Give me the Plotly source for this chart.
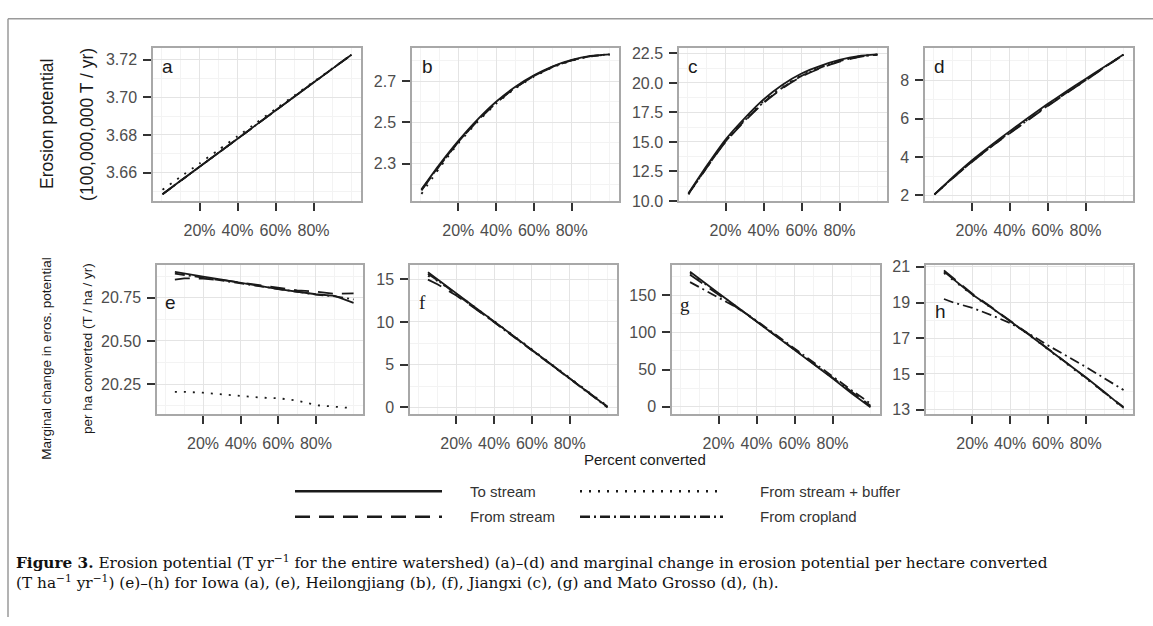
import plotly.graph_objects as go

W, H = 1153, 626

SERIES_NAMES = ["To stream", "From stream", "From stream + buffer", "From cropland"]
X_TICKS = [0.2, 0.4, 0.6, 0.8]

# Percent converted
X_TOP = [0.005, 0.1, 0.2, 0.3, 0.4, 0.5, 0.6, 0.7, 0.8, 0.9, 1.0]
X_BOTTOM = [0.05, 0.1, 0.2, 0.3, 0.4, 0.5, 0.6, 0.7, 0.8, 0.9, 1.0]

# (a) Iowa - erosion potential (100,000,000 T / yr)
a_to_stream = [3.6485, 3.6557, 3.6631, 3.6706, 3.6780, 3.6855, 3.6930, 3.7004, 3.7078, 3.7152, 3.7226]
a_from_stream = [3.6485, 3.6556, 3.6631, 3.6705, 3.6780, 3.6855, 3.6929, 3.7004, 3.7078, 3.7152, 3.7226]
a_buffer = [3.6509, 3.6578, 3.6649, 3.6721, 3.6793, 3.6865, 3.6938, 3.7010, 3.7082, 3.7154, 3.7226]
a_cropland = [3.6485, 3.6557, 3.6631, 3.6706, 3.6780, 3.6855, 3.6930, 3.7004, 3.7078, 3.7152, 3.7226]

# (b) Heilongjiang
b_to_stream = [2.175, 2.295, 2.410, 2.512, 2.600, 2.672, 2.728, 2.772, 2.803, 2.822, 2.830]
b_from_stream = [2.170, 2.288, 2.404, 2.506, 2.594, 2.667, 2.724, 2.769, 2.801, 2.821, 2.829]
b_buffer = [2.153, 2.278, 2.398, 2.500, 2.590, 2.664, 2.721, 2.767, 2.799, 2.820, 2.829]
b_cropland = [2.172, 2.290, 2.405, 2.507, 2.595, 2.668, 2.725, 2.770, 2.801, 2.821, 2.830]

# (c) Jiangxi
c_to_stream = [10.65, 12.95, 15.20, 17.00, 18.60, 19.85, 20.80, 21.45, 21.95, 22.28, 22.42]
c_from_stream = [10.60, 12.80, 15.00, 16.75, 18.30, 19.55, 20.55, 21.25, 21.80, 22.20, 22.40]
c_buffer = [10.55, 12.85, 15.10, 16.90, 18.45, 19.70, 20.65, 21.35, 21.88, 22.25, 22.41]
c_cropland = [10.60, 12.80, 15.05, 16.80, 18.35, 19.60, 20.60, 21.30, 21.85, 22.22, 22.40]

# (d) Mato Grosso
d_to_stream = [2.05, 2.93, 3.80, 4.58, 5.33, 6.05, 6.75, 7.42, 8.06, 8.70, 9.33]
d_from_stream = [2.05, 2.88, 3.72, 4.50, 5.22, 5.93, 6.64, 7.32, 7.98, 8.66, 9.32]
d_buffer = [2.04, 2.90, 3.75, 4.53, 5.27, 5.98, 6.69, 7.36, 8.01, 8.68, 9.32]
d_cropland = [2.05, 2.89, 3.73, 4.51, 5.24, 5.95, 6.66, 7.34, 7.99, 8.67, 9.32]

# (e) Iowa - marginal change (T / ha / yr)
e_to_stream = [20.900, 20.890, 20.872, 20.855, 20.835, 20.818, 20.800, 20.785, 20.770, 20.760, 20.720]
e_from_stream = [20.855, 20.862, 20.860, 20.852, 20.838, 20.822, 20.806, 20.792, 20.785, 20.772, 20.775]
e_buffer = [20.205, 20.205, 20.200, 20.190, 20.180, 20.172, 20.168, 20.155, 20.128, 20.118, 20.110]
e_cropland = [20.890, 20.882, 20.866, 20.850, 20.832, 20.815, 20.800, 20.786, 20.768, 20.758, 20.740]

# (f) Heilongjiang
f_to_stream = [15.80, 15.00, 13.35, 11.70, 10.05, 8.40, 6.70, 5.05, 3.40, 1.70, 0.05]
f_from_stream = [14.95, 14.40, 13.10, 11.60, 10.00, 8.35, 6.70, 5.05, 3.40, 1.72, 0.10]
f_buffer = [15.40, 14.80, 13.30, 11.72, 10.10, 8.45, 6.78, 5.10, 3.45, 1.78, 0.15]
f_cropland = [15.60, 14.90, 13.25, 11.62, 10.00, 8.35, 6.68, 5.02, 3.36, 1.68, 0.00]

# (g) Jiangxi
g_to_stream = [182, 172, 153, 134, 115, 96, 76, 57, 38, 18, -1]
g_from_stream = [178, 169, 152, 134, 115, 96, 77, 58, 39, 20, 1]
g_buffer = [180, 171, 153, 134, 115, 96, 77, 58, 39, 19, 1]
g_cropland = [168, 161, 148, 133, 116, 97, 79, 60, 41, 22, 4]

# (h) Mato Grosso
h_to_stream = [20.73, 20.30, 19.45, 18.72, 17.98, 17.20, 16.40, 15.62, 14.82, 13.98, 13.10]
h_from_stream = [20.80, 20.35, 19.50, 18.75, 18.00, 17.22, 16.42, 15.62, 14.80, 13.95, 13.15]
h_buffer = [20.65, 20.25, 19.42, 18.70, 17.95, 17.18, 16.38, 15.58, 14.78, 13.94, 13.05]
h_cropland = [19.20, 19.00, 18.70, 18.30, 17.85, 17.25, 16.60, 16.00, 15.40, 14.75, 14.10]

# y-axis ticks per panel
a_ticks = [3.66, 3.68, 3.70, 3.72]
b_ticks = [2.3, 2.5, 2.7]
c_ticks = [10.0, 12.5, 15.0, 17.5, 20.0, 22.5]
d_ticks = [2, 4, 6, 8]
e_ticks = [20.25, 20.50, 20.75]
f_ticks = [0, 5, 10, 15]
g_ticks = [0, 50, 100, 150]
h_ticks = [13, 15, 17, 19, 21]

# ---------------- styling / layout ----------------
DASHES = ["solid", "15px,9px", "2px,7px", "10px,4px,2px,4px"]
LINE_COLOR = "#1a1a1a"
SANS = "Liberation Sans, Arial, sans-serif"
SERIF = "Liberation Serif, Times New Roman, serif"
CAPTION_FONT = "DejaVu Serif, Liberation Serif, serif"

panels = [
    # letter, x, series, y range, ticks, minor dtick, minor tick0, fmt, px domain x, row, letter pos, letter font
    ("a", X_TOP, [a_to_stream, a_from_stream, a_buffer, a_cropland], [3.645, 3.7262], a_ticks, 0.01, 3.65, ".2f", (153, 361), 0, (168, 61), SANS),
    ("b", X_TOP, [b_to_stream, b_from_stream, b_buffer, b_cropland], [2.119, 2.861], b_ticks, 0.1, 2.2, ".1f", (412, 619), 0, (427, 61), SANS),
    ("c", X_TOP, [c_to_stream, c_from_stream, c_buffer, c_cropland], [10.0, 22.97], c_ticks, 1.25, 8.75, ".1f", (679, 887), 0, (693, 61), SANS),
    ("d", X_TOP, [d_to_stream, d_from_stream, d_buffer, d_cropland], [1.71, 9.675], d_ticks, 1, 1, "d", (925, 1133), 0, (939, 61), SANS),
    ("e", X_BOTTOM, [e_to_stream, e_from_stream, e_buffer, e_cropland], [20.075, 20.938], e_ticks, 0.125, 20.125, ".2f", (157, 363), 1, (170, 303), SANS),
    ("f", X_BOTTOM, [f_to_stream, f_from_stream, f_buffer, f_cropland], [-0.8, 16.63], f_ticks, 2.5, -2.5, "d", (410, 617), 1, (422, 303), SERIF),
    ("g", X_BOTTOM, [g_to_stream, g_from_stream, g_buffer, g_cropland], [-10.5, 190.8], g_ticks, 25, -25, "d", (672, 880), 1, (685, 305), SERIF),
    ("h", X_BOTTOM, [h_to_stream, h_from_stream, h_buffer, h_cropland], [12.74, 21.09], h_ticks, 1, 12, "d", (926, 1133), 1, (940, 312), SANS),
]

ROWS_PX = [(42, 199), (265, 418)]


def px_x(p):
    return p / W


def px_y(p):
    return 1 - p / H


fig = go.Figure()
layout = dict(
    width=W, height=H,
    margin=dict(l=0, r=0, t=0, b=0),
    paper_bgcolor="white", plot_bgcolor="white",
    showlegend=False, hovermode=False,
)

annotations = []
shapes = []

for i, (letter, xs, series, yr, ticks, mdt, mt0, fmt, (x0, x1), row, (lx, ly), lfont) in enumerate(panels):
    idx = "" if i == 0 else str(i + 1)
    xa, ya = "x" + idx, "y" + idx
    y0, y1 = ROWS_PX[row]
    for name, ys, dash in zip(SERIES_NAMES, series, DASHES):
        fig.add_trace(go.Scatter(
            x=xs, y=ys, mode="lines", name=name, xaxis=xa, yaxis=ya,
            line=dict(color=LINE_COLOR, width=1.8, dash=dash,
                      shape="spline" if row == 0 else "linear", smoothing=0.6),
            showlegend=(i == 0),
        ))
    common = dict(
        showline=True, linecolor="#A8A8A8", linewidth=1.5, mirror=True,
        ticks="outside", ticklen=8, tickwidth=2, tickcolor="#333333",
        showgrid=True, gridcolor="#E4E4E4", gridwidth=1,
        zeroline=False, fixedrange=True,
        tickfont=dict(family=SANS, size=16, color="#4D4D4D"),
    )
    layout["xaxis" + idx] = dict(
        common, domain=[px_x(x0), px_x(x1)], anchor=ya,
        range=[-0.045, 1.05], tickmode="array", tickvals=X_TICKS, tickformat=".0%",
        ticklabelstandoff=6,
        minor=dict(dtick=0.1, tick0=0, showgrid=True, gridcolor="#F3F3F3", gridwidth=1, ticks=""),
    )
    layout["yaxis" + idx] = dict(
        common, domain=[px_y(y1), px_y(y0)], anchor=xa,
        range=yr, tickmode="array", tickvals=ticks, tickformat=fmt,
        ticklabelstandoff=3,
        minor=dict(dtick=mdt, tick0=mt0, showgrid=True, gridcolor="#F3F3F3", gridwidth=1, ticks=""),
    )
    annotations.append(dict(
        x=px_x(lx), y=px_y(ly), xref="paper", yref="paper", text=letter,
        showarrow=False, xanchor="center", yanchor="middle",
        font=dict(family=lfont, size=19, color="#1a1a1a"),
    ))

# axis titles
titles = [
    dict(x=px_x(47), y=px_y(120), text="Erosion potential", textangle=-90,
         font=dict(family=SANS, size=17.5, color="#1a1a1a")),
    dict(x=px_x(87), y=px_y(121), text="(100,000,000 T / yr)", textangle=-90,
         font=dict(family=SANS, size=17.5, color="#1a1a1a")),
    dict(x=px_x(47), y=px_y(361), text="Marginal change in eros. potential", textangle=-90,
         font=dict(family=SANS, size=13.5, color="#1a1a1a")),
    dict(x=px_x(87), y=px_y(351), text="per ha converted (T / ha / yr)", textangle=-90,
         font=dict(family=SANS, size=13.5, color="#1a1a1a")),
    dict(x=px_x(645), y=px_y(464), text="Percent converted",
         font=dict(family=SANS, size=15, color="#1a1a1a")),
]
for a in titles:
    a.update(xref="paper", yref="paper", showarrow=False, xanchor="center", yanchor="middle")
annotations += titles

# legend (drawn keys)
legend_items = [
    (SERIES_NAMES[0], DASHES[0], (295, 442), 497, 468),
    (SERIES_NAMES[1], DASHES[1], (295, 442), 523, 468),
    (SERIES_NAMES[2], DASHES[2], (580, 723), 497, 758),
    (SERIES_NAMES[3], DASHES[3], (580, 723), 523, 758),
]
for name, dash, (sx0, sx1), sy, tx in legend_items:
    shapes.append(dict(type="line", xref="paper", yref="paper",
                       x0=px_x(sx0), x1=px_x(sx1), y0=px_y(sy), y1=px_y(sy),
                       line=dict(color=LINE_COLOR, width=2.5, dash=dash)))
    annotations.append(dict(x=px_x(tx), y=px_y(sy), xref="paper", yref="paper",
                            text=name, showarrow=False, xanchor="left", yanchor="middle",
                            font=dict(family=SANS, size=15, color="#333333")))

# caption
caption = ("<b>Figure 3.</b> Erosion potential (T yr<sup>−1</sup> for the entire watershed) (a)–(d) "
           "and marginal change in erosion potential per hectare converted<br>"
           "(T ha<sup>−1</sup> yr<sup>−1</sup>) (e)–(h) for Iowa (a), (e), Heilongjiang (b), (f), "
           "Jiangxi (c), (g) and Mato Grosso (d), (h).")
annotations.append(dict(x=px_x(14), y=px_y(580), xref="paper", yref="paper",
                        text=caption, showarrow=False, xanchor="left", yanchor="middle",
                        align="left", font=dict(family=CAPTION_FONT, size=15.3, color="#111111")))

# outer frame (top and left edges)
shapes += [
    dict(type="line", xref="paper", yref="paper", x0=px_x(8), x1=1, y0=px_y(12), y1=px_y(12),
         line=dict(color="#9A9A9A", width=1.5)),
    dict(type="line", xref="paper", yref="paper", x0=px_x(8), x1=px_x(8), y0=px_y(12), y1=0,
         line=dict(color="#9A9A9A", width=1.5)),
]

layout["annotations"] = annotations
layout["shapes"] = shapes
fig.update_layout(**layout)

fig.write_html(
    "out.html",
    config={"displayModeBar": False},
    post_script=("document.body.style.margin='0';document.body.style.padding='0';"
                 "document.body.style.overflow='hidden';"
                 "document.documentElement.style.overflow='hidden';"),
)
